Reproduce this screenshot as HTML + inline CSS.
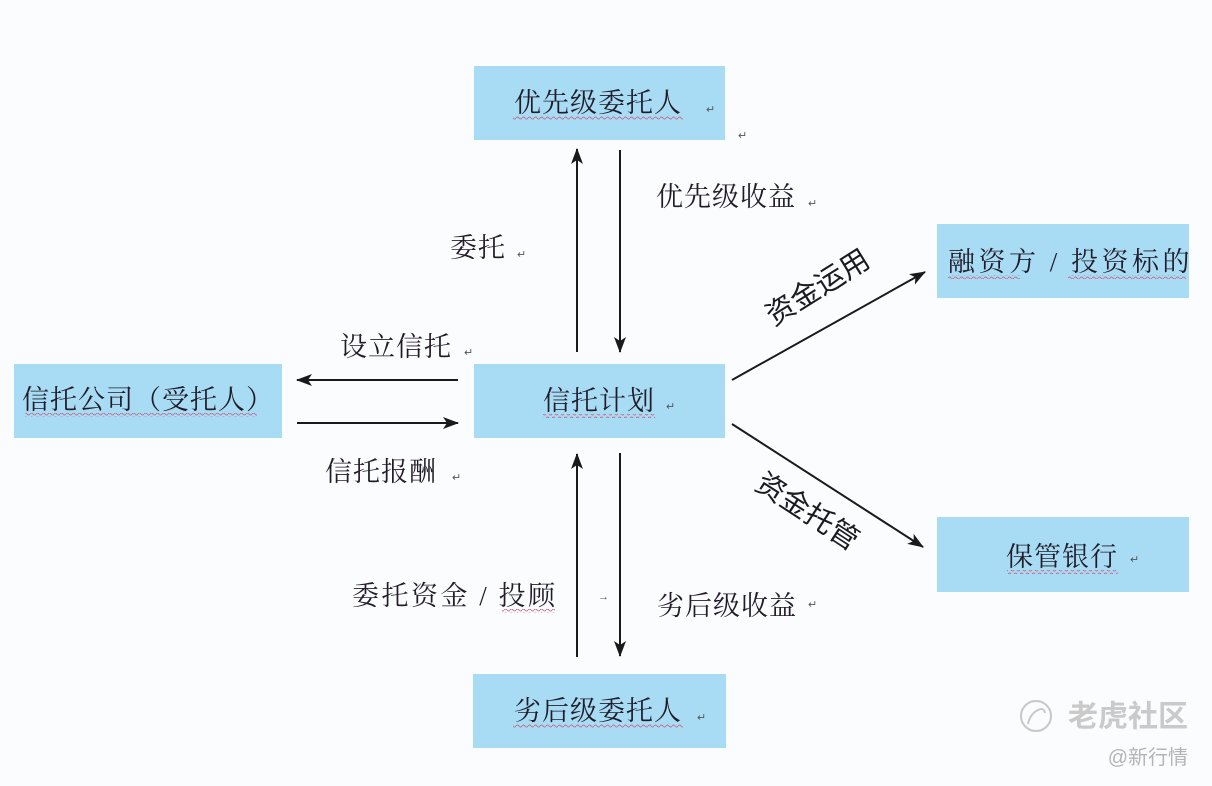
<!DOCTYPE html>
<html>
<head>
<meta charset="utf-8">
<style>
html,body{margin:0;padding:0;background:#fbfcfe;}
svg{display:block;}
.t{font-family:"Liberation Serif","Noto Serif CJK SC",serif;font-size:27px;fill:#221c28;letter-spacing:1px;}
.s{font-family:"Liberation Sans","Noto Sans CJK SC",sans-serif;font-size:29px;fill:#1a1a20;}
.m{font-family:"Liberation Sans",sans-serif;font-size:11px;fill:#555;}
.box{fill:#a8dcf5;}
</style>
</head>
<body>
<svg width="1212" height="786" viewBox="0 0 1212 786" xmlns="http://www.w3.org/2000/svg">
<defs>
<marker id="ah" viewBox="0 0 16 12" refX="15" refY="6" markerWidth="16" markerHeight="12" markerUnits="userSpaceOnUse" orient="auto">
<path d="M0,0 L16,6 L0,12 L4,6 z" fill="#1a1a1a"/>
</marker>
<pattern id="wave" width="6" height="4" patternUnits="userSpaceOnUse">
<path d="M0,2 Q1.5,0 3,2 T6,2" fill="none" stroke="#c86a8a" stroke-width="0.9"/>
</pattern>
</defs>
<rect width="1212" height="786" fill="#fbfcfe"/>

<!-- boxes -->
<rect class="box" x="474" y="66" width="251" height="74"/>
<rect class="box" x="474" y="364" width="251" height="74"/>
<rect class="box" x="14" y="364" width="268" height="74"/>
<rect class="box" x="937" y="224" width="252" height="74"/>
<rect class="box" x="937" y="517" width="252" height="75"/>
<rect class="box" x="473" y="674" width="253" height="74"/>

<!-- wavy underlines -->
<rect x="513" y="116" width="170" height="4" fill="url(#wave)"/>
<rect x="543" y="414" width="112" height="4" fill="url(#wave)"/>
<rect x="25" y="413" width="232" height="4" fill="url(#wave)"/>
<rect x="948" y="275" width="72" height="4" fill="url(#wave)"/>
<rect x="1068" y="275" width="118" height="4" fill="url(#wave)"/>
<rect x="1007" y="570" width="111" height="4" fill="url(#wave)"/>
<rect x="513" y="724" width="170" height="4" fill="url(#wave)"/>
<rect x="502" y="609" width="53" height="4" fill="url(#wave)"/>

<!-- arrows -->
<g stroke="#1a1a1a" stroke-width="2" fill="none">
<line x1="577" y1="352" x2="577" y2="149" marker-end="url(#ah)"/>
<line x1="620" y1="150" x2="620" y2="352" marker-end="url(#ah)"/>
<line x1="458" y1="380" x2="297" y2="380" marker-end="url(#ah)"/>
<line x1="297" y1="423" x2="458" y2="423" marker-end="url(#ah)"/>
<line x1="732" y1="380" x2="925" y2="272" marker-end="url(#ah)"/>
<line x1="732" y1="424" x2="923" y2="547" marker-end="url(#ah)"/>
<line x1="577" y1="657" x2="577" y2="454" marker-end="url(#ah)"/>
<line x1="620" y1="453" x2="620" y2="656" marker-end="url(#ah)"/>
</g>

<!-- box labels -->
<text class="t" x="598" y="103" text-anchor="middle" dominant-baseline="central">优先级委托人</text>
<text class="t" x="599" y="401" text-anchor="middle" dominant-baseline="central">信托计划</text>
<text class="t" x="148" y="400" text-anchor="middle" dominant-baseline="central">信托公司（受托人）</text>
<text class="t" x="948" y="262" dominant-baseline="central" style="letter-spacing:3.5px">融资方 / 投资标的</text>
<text class="t" x="1062" y="557" text-anchor="middle" dominant-baseline="central">保管银行</text>
<text class="t" x="598" y="711" text-anchor="middle" dominant-baseline="central">劣后级委托人</text>

<!-- connector labels -->
<text class="t" x="726" y="197" text-anchor="middle" dominant-baseline="central">优先级收益</text>
<text class="t" x="478" y="248" text-anchor="middle" dominant-baseline="central">委托</text>
<text class="t" x="396" y="347" text-anchor="middle" dominant-baseline="central">设立信托</text>
<text class="t" x="381" y="472" text-anchor="middle" dominant-baseline="central">信托报酬</text>
<text class="t" x="352" y="596" dominant-baseline="central" style="letter-spacing:2.5px">委托资金 / 投顾</text>
<text class="t" x="727" y="606" text-anchor="middle" dominant-baseline="central">劣后级收益</text>

<text class="s" x="0" y="0" text-anchor="middle" dominant-baseline="central" transform="translate(818,288) rotate(-32)">资金运用</text>
<text class="s" x="0" y="0" text-anchor="middle" dominant-baseline="central" transform="translate(807,512) rotate(33)">资金托管</text>

<!-- small paragraph marks -->
<text class="m" x="706" y="113">↵</text>
<text class="m" x="738" y="139">↵</text>
<text class="m" x="808" y="207">↵</text>
<text class="m" x="517" y="258">↵</text>
<text class="m" x="464" y="356">↵</text>
<text class="m" x="452" y="481">↵</text>
<text class="m" x="666" y="410">↵</text>
<text class="m" x="1130" y="563">↵</text>
<text class="m" x="598" y="600">→</text>
<text class="m" x="808" y="608">↵</text>
<text class="m" x="697" y="721">↵</text>

<!-- watermark -->
<circle cx="1036" cy="716" r="15" fill="none" stroke="#c8c8c8" stroke-width="2"/>
<path d="M1028,724 Q1030,714 1038,710 Q1044,707 1045,713" fill="none" stroke="#c8c8c8" stroke-width="2"/>
<text x="1128" y="717" text-anchor="middle" dominant-baseline="central" font-family="'Liberation Sans','Noto Sans CJK SC',sans-serif" font-size="30" font-weight="bold" fill="#cacaca">老虎社区</text>
<text x="1188" y="758" text-anchor="end" dominant-baseline="central" font-family="'Liberation Sans','Noto Sans CJK SC',sans-serif" font-size="20" fill="#b4b4b4">@新行情</text>
</svg>
</body>
</html>
